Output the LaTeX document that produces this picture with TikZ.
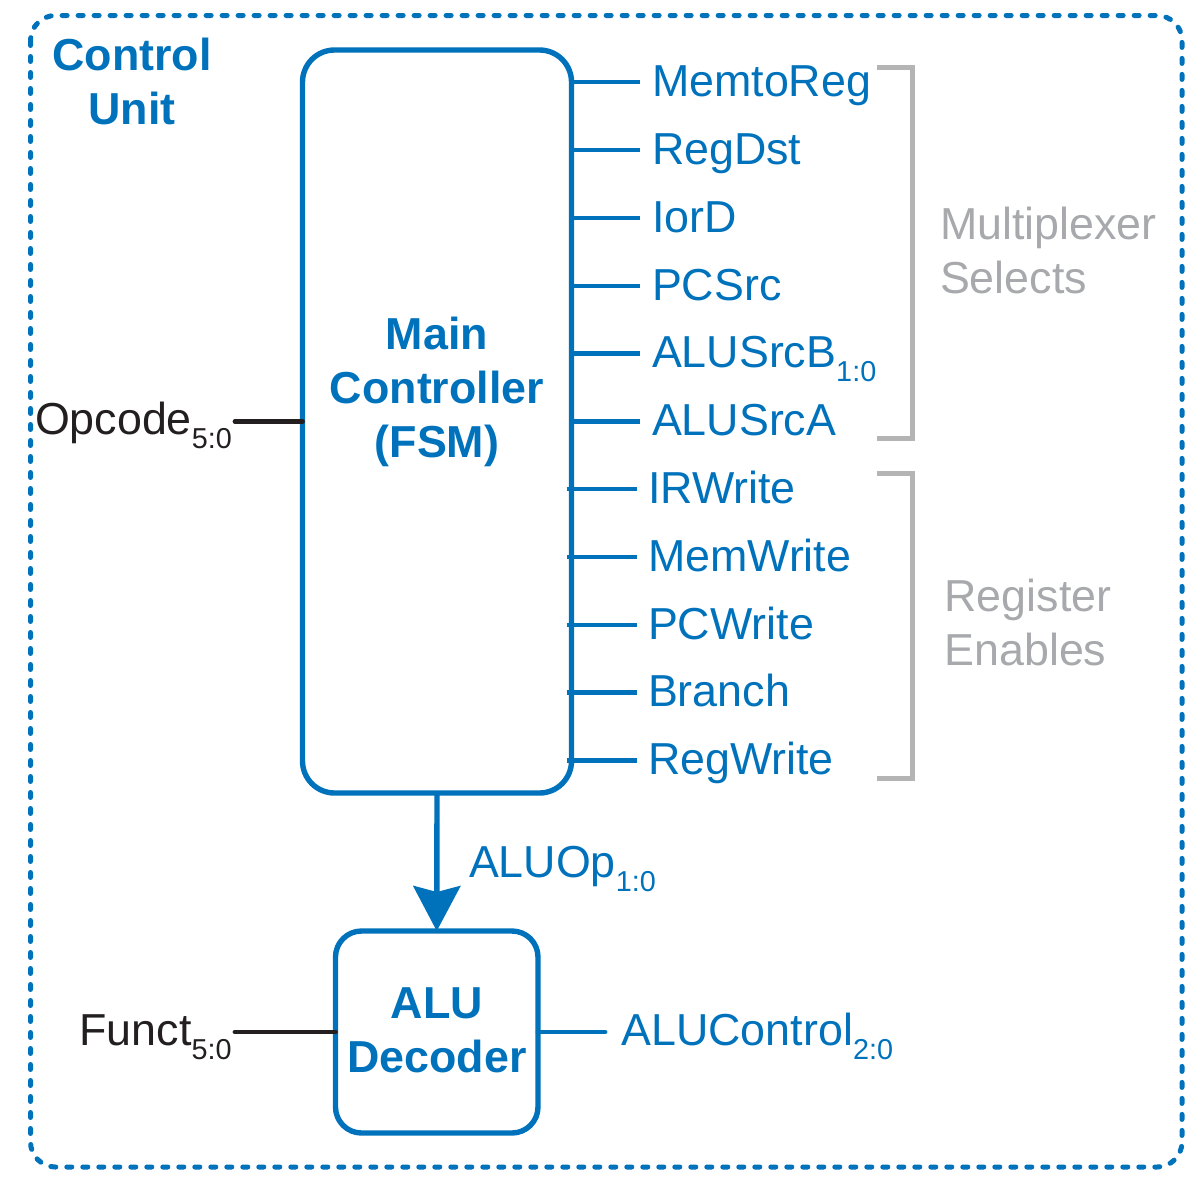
\documentclass[tikz,border=0pt]{standalone}
\usepackage{fontspec}
\setmainfont{Liberation Sans}
\usetikzlibrary{arrows.meta}
\definecolor{cublue}{RGB}{0,114,188}
\definecolor{cugray}{RGB}{167,169,172}
\definecolor{brgray}{RGB}{180,180,181}
\definecolor{wireblack}{RGB}{35,31,32}
\newcommand\subtxt[1]{\raisebox{-7pt}{\fontsize{14.4}{14.4}\selectfont #1}}
\begin{document}
\begin{tikzpicture}[x=0.5pt,y=-0.5pt,
  txt/.style={inner sep=0pt, outer sep=0pt, font=\fontsize{22.4}{27}\selectfont},
  sig/.style={txt, text=cublue, anchor=base west},
  grp/.style={txt, text=cugray, anchor=base west, align=left},
  blk/.style={txt, text=wireblack, anchor=base west},
  title/.style={txt, text=cublue, font=\fontsize{22.4}{27}\selectfont\bfseries, align=center, anchor=base},
  blockbox/.style={draw=cublue, line width=2.7pt, inner sep=0pt, outer sep=0pt},
  wire/.style={draw=cublue, line width=2.2pt},
  blkwire/.style={draw=wireblack, line width=2.4pt, line cap=round},
  brk/.style={draw=brgray, line width=2.5pt},
  border/.style={draw=cublue, line width=2.5pt, line cap=round, dash pattern=on 2.5pt off 5.5pt, rounded corners=12.5pt}
]
\useasboundingbox (0,0) rectangle (1199,1183);

% outer dotted border
\draw[border] (30.5,15.5) rectangle (1182,1167);
\node[title] (cu) at (132,124) {Control\\Unit};

% main controller
\node[blockbox, rounded corners=16pt, minimum width=134.5pt, minimum height=371.5pt] (main) at (437,421.5) {};
\node[title] (maintext) at (437,457) {Main\\Controller\\(FSM)};

% ALU decoder
\node[blockbox, rounded corners=13pt, minimum width=101.25pt, minimum height=101pt] (alu) at (436.75,1032) {};
\node[title] (alutext) at (437,1072) {ALU\\Decoder};

% arrow ALUOp
\draw[wire, line width=2.7pt, -{Stealth[length=22.5pt, width=23.5pt, inset=3pt]}] (main.south) -- (alu.north);
\node[sig] (aluop) at (469,877) {ALUOp\subtxt{1:0}};

% inputs
\node[blk] (opcode) at (35,434) {Opcode\subtxt{5:0}};
\coordinate (opin) at (235,421.5);
\draw[blkwire] (opin) -- (main.west |- opin);
\node[blk] (funct) at (79.5,1045) {Funct\subtxt{5:0}};
\coordinate (fin) at (235,1032);
\draw[blkwire] (fin) -- (alu.west);

% ALUControl
\coordinate (acout) at (605,1032);
\draw[wire, line width=2.4pt, line cap=round] (alu.east) -- (acout);
\node[sig] (aluctl) at (621.5,1045) {ALUControl\subtxt{2:0}};

% multiplexer selects
\coordinate (w0) at (640,82);
\coordinate (w1) at (640,150);
\coordinate (w2) at (640,218);
\coordinate (w3) at (640,286);
\coordinate (w4) at (640,353.5);
\coordinate (w5) at (640,421.5);
\foreach \i in {0,...,5} {\draw[wire] (main.east |- w\i) -- (w\i);}
\node[sig] (s0) at (652,96) {MemtoReg};
\node[sig] (s1) at (652,164) {RegDst};
\node[sig] (s2) at (652,232) {IorD};
\node[sig] (s3) at (652,300) {PCSrc};
\node[sig] (s4) at (652,367.5) {ALUSrcB\subtxt{1:0}};
\node[sig] (s5) at (652,435.5) {ALUSrcA};

% register enables
\coordinate (w6) at (637,489);
\coordinate (w7) at (637,557);
\coordinate (w8) at (637,625);
\coordinate (w9) at (637,692.5);
\coordinate (w10) at (637,760.5);
\foreach \i in {6,...,10} {\draw[wire] ([xshift=-2.5pt]main.east |- w\i) -- (w\i);}
\node[sig] (s6) at (648,503) {IRWrite};
\node[sig] (s7) at (648,571) {MemWrite};
\node[sig] (s8) at (648,639) {PCWrite};
\node[sig] (s9) at (648,706.5) {Branch};
\node[sig] (s10) at (648,774.5) {RegWrite};

% brackets
\draw[brk] (877,67) -- (912,67) -- (912,438) -- (877,438);
\draw[brk] (877,473) -- (912,473) -- (912,778) -- (877,778);
\node[grp] (mux) at (940,293) {Multiplexer\\Selects};
\node[grp] (reg) at (944.5,665) {Register\\Enables};
\end{tikzpicture}
\end{document}
